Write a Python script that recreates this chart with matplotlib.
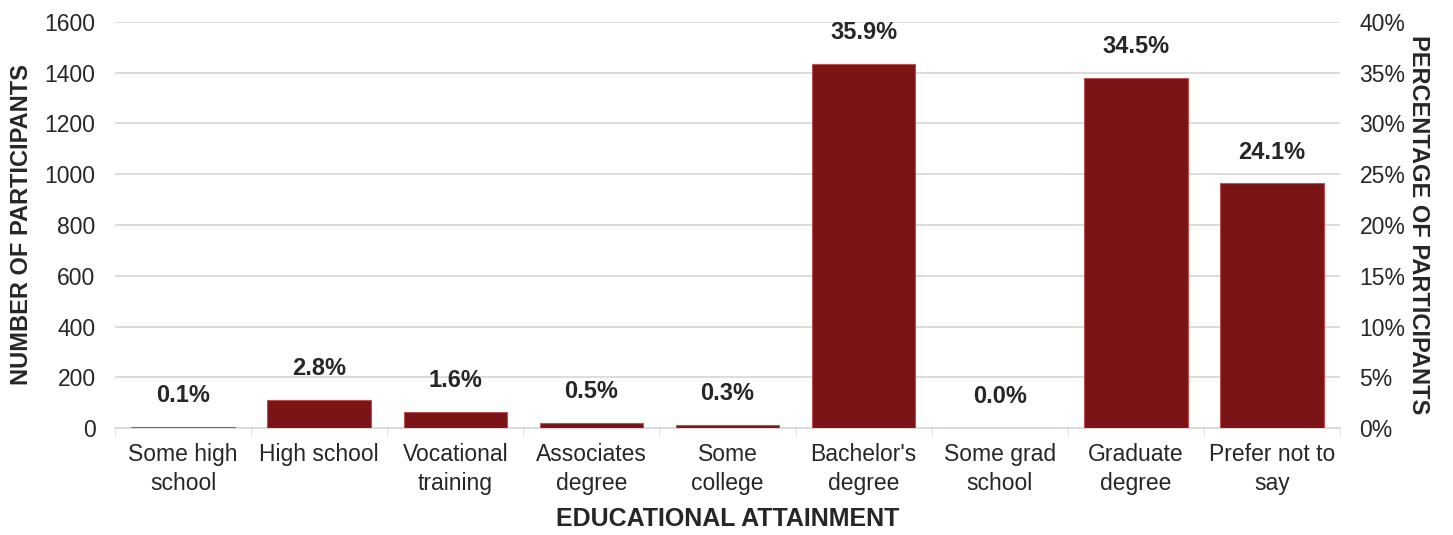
import matplotlib.pyplot as plt
import numpy as np

plt.rcParams['font.family'] = ['Liberation Sans', 'DejaVu Sans']

# data
categories = ["Some high\nschool", "High school", "Vocational\ntraining", "Associates\ndegree",
              "Some\ncollege", "Bachelor's\ndegree", "Some grad\nschool", "Graduate\ndegree",
              "Prefer not to\nsay"]
counts = [5, 112, 64, 20, 12, 1436, 1, 1380, 964]
pct_labels = ["0.1%", "2.8%", "1.6%", "0.5%", "0.3%", "35.9%", "0.0%", "34.5%", "24.1%"]
total = 4000

bar_color = "#7b1416"
text_color = "#262626"

fig = plt.figure(figsize=(14.53, 5.35), dpi=100)
ax = fig.add_axes([115/1453, 1 - 428/535, (1340-115)/1453, (428-22)/535])

x = np.arange(len(categories))
ax.bar(x, counts, width=0.76, color=bar_color, edgecolor="#c0504d", linewidth=0.8, zorder=3)

# percentage labels above bars
for xi, c, lab in zip(x, counts, pct_labels):
    ax.annotate(lab, (xi, c), xytext=(0, 31), textcoords="offset pixels",
                ha="center", va="center", fontsize=17, fontweight="bold", color=text_color)

ax.set_xlim(-0.5, len(categories) - 0.5)
ax.set_ylim(0, 1600)
ax.set_yticks(np.arange(0, 1601, 200))
ax.yaxis.grid(True, color="#d9d9d9", linewidth=1.3, zorder=0)
ax.set_axisbelow(True)
for s in ["top", "right", "left"]:
    ax.spines[s].set_visible(False)
ax.spines["bottom"].set_color("#d9d9d9")
ax.spines["bottom"].set_linewidth(1.3)

ax.set_xticks(x)
ax.set_xticklabels(categories, fontsize=16.5, color=text_color, linespacing=1.3)
ax.set_xticks(np.arange(-0.5, len(categories), 1), minor=True)
ax.tick_params(axis="x", which="major", length=0, pad=11)
ax.tick_params(axis="x", which="minor", length=6, color="#d9d9d9")
ax.tick_params(axis="y", length=0, labelsize=16.5, labelcolor=text_color, pad=14)

ax.set_ylabel("NUMBER OF PARTICIPANTS", fontsize=17, fontweight="bold", color=text_color, labelpad=8)
ax.set_xlabel("EDUCATIONAL ATTAINMENT", fontsize=18, fontweight="bold", color=text_color, labelpad=9)

ax2 = ax.twinx()
ax2.set_ylim(0, 1600 / total * 100)
ax2.set_yticks(np.arange(0, 41, 5))
ax2.set_yticklabels([f"{v}%" for v in range(0, 41, 5)])
for s in ["top", "right", "left", "bottom"]:
    ax2.spines[s].set_visible(False)
ax2.tick_params(axis="y", length=0, labelsize=16.5, labelcolor=text_color, pad=14)
ax2.set_ylabel("PERCENTAGE OF PARTICIPANTS", fontsize=17, fontweight="bold", color=text_color,
               rotation=270, labelpad=18)

fig.savefig("out.png", dpi=100, facecolor="white")
